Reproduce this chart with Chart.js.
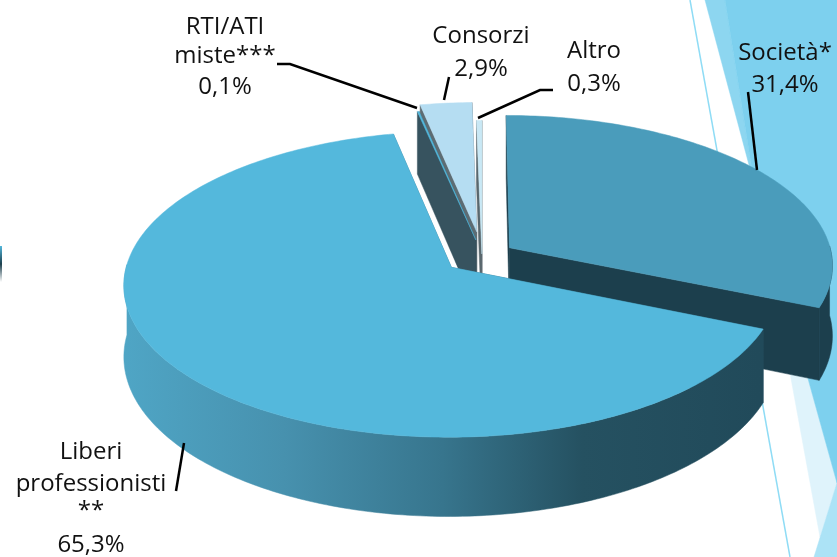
<!DOCTYPE html>
<html lang="it">
<head>
<meta charset="utf-8">
<title>Torta 3D</title>
<script src="https://cdn.jsdelivr.net/npm/chart.js@4/dist/chart.umd.min.js"></script>
<style>
  html, body { margin: 0; padding: 0; background: #fff; overflow: hidden; }
  canvas { display: block; }
</style>
</head>
<body>
<canvas id="torta" width="837" height="557"></canvas>
<script>
// Dati
const categorie = ['Società*', 'Liberi professionisti **', 'RTI/ATI miste***', 'Consorzi', 'Altro'];
const valori = [31.4, 65.3, 0.1, 2.9, 0.3];

// Stile delle fette (stesso ordine di categorie)
const coloriTop = ['#4a9cbb', '#54b8dc', '#54b8dc', '#b5ddf2', '#c9e8f5'];
const coloriLato = ['#1c3f4d', null, '#37535f', '#5d6c73', '#59676d'];
const distacco = [32, 25, 32, 46, 7];
const spostaX = [-1, -1, 7, 6, 5];
const ordineDisegno = [4, 3, 2, 0, 1];

// Proiezione prospettica
const CX = 477, CY = 258, RX = 323, RY = 149, K = 0.11, SPESSORE = 70;
let nudge = 0;

function proietta(el, x, y, h) {
  const R = el.outerRadius;
  const v = (y - el.y) / R;
  const w = 1 / (1 - K * v);
  return [CX + nudge + RX * ((x - el.x) / R) * w, CY + RY * v * w + h * w];
}

function puntoArco(el, a, off, h) {
  const mid = (el.startAngle + el.endAngle) / 2;
  const x = el.x + Math.cos(mid) * off + el.outerRadius * Math.cos(a);
  const y = el.y + Math.sin(mid) * off + el.outerRadius * Math.sin(a);
  return proietta(el, x, y, h);
}

function punta(el, off, h) {
  const mid = (el.startAngle + el.endAngle) / 2;
  return proietta(el, el.x + Math.cos(mid) * off, el.y + Math.sin(mid) * off, h);
}

function angoli(el) {
  const n = Math.max(2, Math.ceil((el.endAngle - el.startAngle) * 60));
  const out = [];
  for (let i = 0; i <= n; i++) out.push(el.startAngle + (el.endAngle - el.startAngle) * i / n);
  return out;
}

function poligono(ctx, punti, fill) {
  ctx.beginPath();
  punti.forEach((p, i) => (i ? ctx.lineTo(p[0], p[1]) : ctx.moveTo(p[0], p[1])));
  ctx.closePath();
  ctx.fillStyle = fill;
  ctx.fill();
  // bordo sottile per chiudere le giunzioni
  ctx.strokeStyle = fill;
  ctx.lineWidth = 0.5;
  ctx.stroke();
}

const torta3d = {
  id: 'torta3d',
  // Decorazioni di sfondo della slide
  beforeDraw(chart) {
    const ctx = chart.ctx;
    poligono(ctx, [[775, 290], [807, 375], [837, 483], [820, 537], [790, 373]], '#dff3fb');
    poligono(ctx, [[837, 483], [814, 557], [837, 557]], '#ace3f6');
    poligono(ctx, [[705, 0], [725, 0], [752, 170], [749, 165]], '#8dd6f0');
    poligono(ctx, [[725, 0], [837, 0], [837, 483], [807, 375], [752, 170]], '#7dd0ee');
    ctx.strokeStyle = '#8fdcf5';
    ctx.lineWidth = 1.5;
    ctx.beginPath();
    ctx.moveTo(690, 0);
    ctx.lineTo(790, 557);
    ctx.stroke();
    const g = ctx.createLinearGradient(0, 246, 0, 282);
    g.addColorStop(0, '#54b8dc');
    g.addColorStop(0.5, '#1c3f4d');
    g.addColorStop(1, '#ffffff');
    ctx.fillStyle = g;
    ctx.fillRect(0, 246, 2, 36);
  },
  // Le fette usano la geometria calcolata da Chart.js, ma in prospettiva
  beforeDatasetDraw(chart) {
    const ctx = chart.ctx;
    const archi = chart.getDatasetMeta(0).data;
    ordineDisegno.forEach(i => {
      const el = archi[i];
      const off = el.options.offset;
      const ang = angoli(el);
      nudge = spostaX[i];
      let lato = coloriLato[i];
      if (!lato) {
        lato = ctx.createLinearGradient(125, 0, 760, 0);
        lato.addColorStop(0, '#4fa5c5');
        lato.addColorStop(0.25, '#4791ae');
        lato.addColorStop(0.5, '#37758d');
        lato.addColorStop(0.72, '#255161');
        lato.addColorStop(1, '#214a5a');
      }
      const t0 = punta(el, off, 0), t1 = punta(el, off, SPESSORE);
      const a0 = ang[0], a1 = ang[ang.length - 1];
      // pareti di taglio
      poligono(ctx, [t0, t1, puntoArco(el, a0, off, SPESSORE), puntoArco(el, a0, off, 0)], lato);
      poligono(ctx, [t0, t1, puntoArco(el, a1, off, SPESSORE), puntoArco(el, a1, off, 0)], lato);
      // parete esterna: solo la parte verso chi guarda
      const fronte = ang.filter(a => Math.sin(a) > -0.02);
      if (fronte.length > 1) {
        const su = fronte.map(a => puntoArco(el, a, off, 0));
        const giu = fronte.map(a => puntoArco(el, a, off, SPESSORE)).reverse();
        poligono(ctx, su.concat(giu), lato);
      }
      // faccia superiore
      poligono(ctx, [t0].concat(ang.map(a => puntoArco(el, a, off, 0))), el.options.backgroundColor);
    });
    return false;
  },
  afterDraw(chart) {
    const ctx = chart.ctx;
    const percento = valori.map(v => v.toFixed(1).replace('.', ',') + '%');
    const etichette = [
      { x: 785, righe: [['Società*', 53], [percento[0], 85]], linea: [[748, 92], [757, 170]] },
      { x: 91, righe: [['Liberi', 452], ['professionisti', 484], ['**', 511], [percento[1], 545]], linea: [[176, 491], [184, 443]] },
      { x: 225, righe: [['RTI/ATI', 27], ['miste***', 56], [percento[2], 87]], linea: [[277, 64], [290, 64], [417, 108]] },
      { x: 481, righe: [['Consorzi', 36], [percento[3], 69]], linea: [[449, 77], [444, 100]] },
      { x: 594, righe: [['Altro', 51], [percento[4], 84]], linea: [[553, 90], [540, 90], [478, 118]] },
    ];
    ctx.strokeStyle = '#000';
    ctx.lineWidth = 2.5;
    ctx.fillStyle = '#111';
    ctx.font = '24px "Open Sans"';
    ctx.textAlign = 'center';
    ctx.textBaseline = 'middle';
    etichette.forEach(e => {
      ctx.beginPath();
      e.linea.forEach((p, i) => (i ? ctx.lineTo(p[0], p[1]) : ctx.moveTo(p[0], p[1])));
      ctx.stroke();
      e.righe.forEach(r => ctx.fillText(r[0], e.x, r[1]));
    });
  },
};

new Chart(document.getElementById('torta').getContext('2d'), {
  type: 'pie',
  data: {
    labels: categorie,
    datasets: [{
      data: valori,
      backgroundColor: coloriTop,
      borderWidth: 0,
      offset: distacco,
    }],
  },
  options: {
    responsive: false,
    animation: false,
    plugins: { legend: { display: false }, tooltip: { enabled: false } },
  },
  plugins: [torta3d],
});
</script>
</body>
</html>
